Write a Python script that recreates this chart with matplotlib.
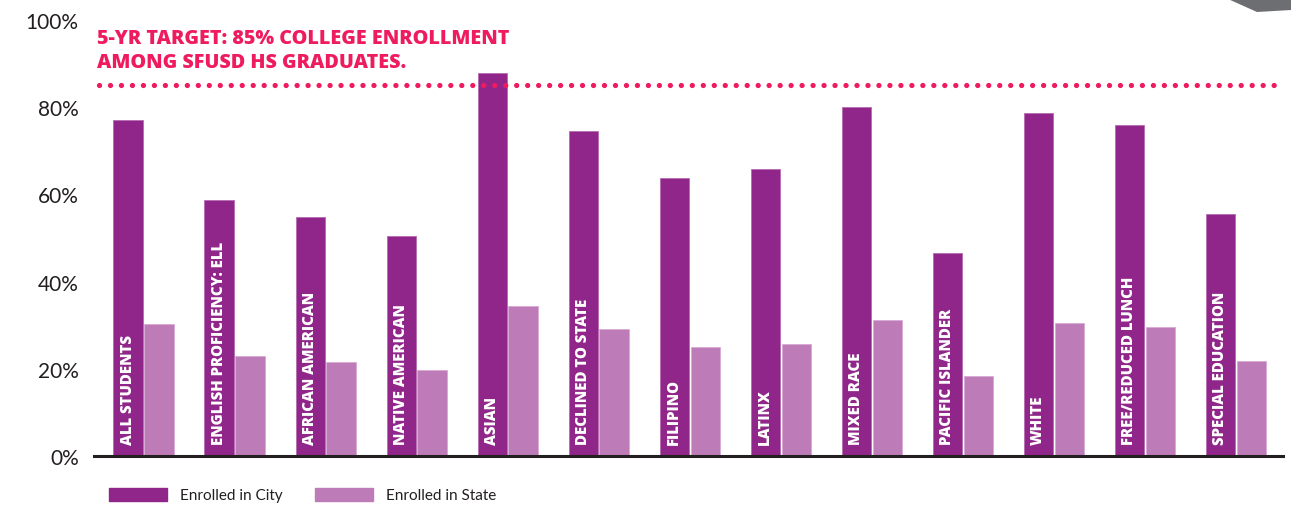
#!/usr/bin/env python3

import matplotlib
matplotlib.use('Agg')
import matplotlib.pyplot as plt
from matplotlib.patches import Polygon, Patch

# student groups along the x axis
GROUPS = ['ALL STUDENTS', 'ENGLISH PROFICIENCY: ELL', 'AFRICAN AMERICAN',
          'NATIVE AMERICAN', 'ASIAN', 'DECLINED TO STATE', 'FILIPINO', 'LATINX',
          'MIXED RACE', 'PACIFIC ISLANDER', 'WHITE', 'FREE/REDUCED LUNCH',
          'SPECIAL EDUCATION']
# percent enrolled
CITY = [77.0, 58.8, 54.9, 50.5, 87.9, 74.6, 63.8, 65.8, 80.1, 46.6, 78.6, 76.0, 55.5]
STATE = [30.2, 23.0, 21.5, 19.8, 34.4, 29.2, 24.9, 25.8, 31.3, 18.3, 30.6, 29.7, 21.7]
SERIES = ['Enrolled in City', 'Enrolled in State']
TARGET = 85
TARGET_TEXT = '5-YR TARGET: 85% COLLEGE ENROLLMENT\nAMONG SFUSD HS GRADUATES.'
YTICKS = [0, 20, 40, 60, 80, 100]

CITY_COLOR = '#90268a'
STATE_COLOR = '#bd7bb8'
PINK = '#ee1b5f'
DARK = '#231f20'

W, H = 1291, 506
fig = plt.figure(figsize=(W / 100, H / 100), dpi=100)
# axes placed in pixels: x axis from 94 to 1283, 0% at y=457, 100% at y=21
ax = fig.add_axes([94 / W, 1 - 457 / H, (1283 - 94) / W, (457 - 21) / H])

x = list(range(len(GROUPS)))
width = 0.32
off = 0.17
ax.bar([i - off for i in x], CITY, width, color=CITY_COLOR, edgecolor='#b66bb0',
       linewidth=0.6, label=SERIES[0], zorder=2)
ax.bar([i + off for i in x], STATE, width, color=STATE_COLOR, edgecolor='#d9a9d5',
       linewidth=0.6, label=SERIES[1], zorder=2)

# group names written up the inside of the city bars
for i, name in enumerate(GROUPS):
    ax.text(i - off, 2.7, name, rotation=90, ha='center', va='bottom', color='white',
            fontsize=10.8, fontweight='heavy', family='Open Sans', zorder=3)

ax.set_xlim(-0.544, 12.52)
ax.set_ylim(0, 100)
ax.set_yticks(YTICKS)
ax.set_yticklabels([f'{t}%' for t in YTICKS], fontsize=15, color=DARK, family='Lato')
ax.tick_params(axis='y', length=0, pad=11)
ax.set_xticks([])
for side in ('top', 'right', 'left'):
    ax.spines[side].set_visible(False)
ax.spines['bottom'].set_color(DARK)
ax.spines['bottom'].set_linewidth(2.2)
ax.spines['bottom'].set_zorder(4)

# dotted target line
ax.axhline(TARGET, xmin=0.004, xmax=0.998, color=PINK, linewidth=3.8,
           linestyle=(0, (0.01, 2.07)), dash_capstyle='round', zorder=3)
fig.text(97 / W, 1 - 51 / H, TARGET_TEXT, color=PINK, fontsize=14.2, fontweight='heavy',
         family='Open Sans', ha='left', va='center', linespacing=1.3)

# legend below the axis
handles = [Patch(color=CITY_COLOR), Patch(color=STATE_COLOR)]
fig.legend(handles, SERIES, loc='center left', bbox_to_anchor=(95 / W, 1 - 496 / H),
           ncol=2, frameon=False, handlelength=3.8, handleheight=0.95, handletextpad=0.85,
           columnspacing=2.1, prop={'family': 'Lato', 'size': 11}, labelcolor=DARK)

# grey page corner decoration, top right
fig.patches.append(Polygon([(1228 / W, 1), (1291 / W, 1), (1291 / W, 1 - 11 / H),
                            (1257 / W, 1 - 13 / H)], closed=True, transform=fig.transFigure,
                           facecolor='#6d6e71', edgecolor='none'))

fig.savefig('out.png', dpi=100)
